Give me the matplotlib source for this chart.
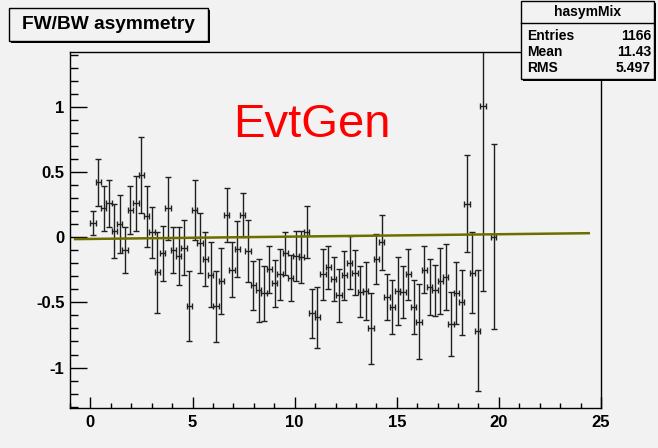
import matplotlib
matplotlib.use("Agg")
import matplotlib.pyplot as plt
import numpy as np
from matplotlib.patches import Rectangle
from matplotlib.ticker import MultipleLocator, FuncFormatter

# histogram hasymMix: bin contents and errors (one empty bin near 19.5)
bin_width = 0.2616
asym = [0.11, 0.42, 0.22, 0.26, 0.048, 0.10, -0.10, 0.21, 0.26, 0.475,
        0.16, 0.036, -0.27, -0.125, 0.22, -0.10, -0.145, -0.082, -0.53, 0.21,
        -0.046, -0.168, -0.287, -0.53, -0.335, 0.168, -0.248, -0.092, 0.168, -0.107,
        -0.37, -0.406, -0.43, -0.247, -0.355, -0.283, -0.125, -0.314, -0.145, -0.151,
        0.040, -0.585, -0.615, -0.283, -0.232, -0.32, -0.447, -0.291, -0.197, -0.273,
        -0.419, -0.413, -0.70, -0.168, -0.040, -0.457, -0.534, -0.413, -0.42, -0.283,
        -0.534, -0.649, -0.248, -0.381, -0.406, -0.335, -0.304, -0.666, -0.43, -0.5,
        0.258, -0.273, -0.717, 1.003, np.nan, 0.002]
asym_err = [0.092, 0.18, 0.17, 0.18, 0.205, 0.22, 0.176, 0.185, 0.21, 0.29,
            0.233, 0.198, 0.31, 0.21, 0.243, 0.176, 0.22, 0.21, 0.27, 0.23,
            0.23, 0.208, 0.252, 0.272, 0.251, 0.208, 0.212, 0.217, 0.168, 0.237,
            0.186, 0.241, 0.21, 0.182, 0.182, 0.195, 0.163, 0.176, 0.19, 0.199,
            0.197, 0.188, 0.232, 0.195, 0.165, 0.168, 0.202, 0.188, 0.204, 0.173,
            0.196, 0.22, 0.274, 0.19, 0.208, 0.178, 0.209, 0.26, 0.197, 0.195,
            0.209, 0.287, 0.182, 0.213, 0.195, 0.251, 0.251, 0.246, 0.239, 0.249,
            0.37, 0.31, 0.466, 1.414, np.nan, 0.71]

# linear fit
fit_p0 = -0.0135
fit_p1 = 0.0018
fit_range = [-0.75, 24.4]

stats_names = ["Entries", "Mean", "RMS"]
stats_values = ["1166", "11.43", "5.497"]

W, H = 658, 448
bg = "#f2f2f2"
bold = dict(family="Liberation Sans", weight="bold")

fig = plt.figure(figsize=(W / 100, H / 100), dpi=100)
fig.patch.set_facecolor(bg)
ax = fig.add_axes([70 / W, 1 - 408 / H, (601 - 70) / W, (408 - 52) / H])
ax.set_facecolor(bg)

y = np.array(asym)
e = np.array(asym_err)
x = (np.arange(len(y)) + 0.5) * bin_width
ok = ~np.isnan(y)
ax.errorbar(x[ok], y[ok], yerr=e[ok], xerr=bin_width / 2, fmt="none",
            ecolor="#202020", elinewidth=1, capsize=2.5, capthick=1)

xf = np.array(fit_range)
ax.plot(xf, fit_p0 + fit_p1 * xf, color="#6e6e00", lw=1.8)

ax.text(7.0, 0.77, "EvtGen", color="#ff0000", fontsize=34,
        family="Liberation Sans", ha="left", va="baseline")

ax.set_xlim(-1, 25)
ax.set_ylim(-1.31, 1.42)
ax.xaxis.set_major_locator(MultipleLocator(5))
ax.xaxis.set_minor_locator(MultipleLocator(1))
ax.yaxis.set_major_locator(MultipleLocator(0.5))
ax.yaxis.set_minor_locator(MultipleLocator(0.1))
ax.yaxis.set_major_formatter(FuncFormatter(lambda v, p: "%g" % v))
ax.xaxis.set_major_formatter(FuncFormatter(lambda v, p: "%g" % v))
ax.tick_params(which="both", direction="in", top=False, right=False, color="black")
ax.tick_params(axis="y", which="major", length=12, width=1, pad=4)
ax.tick_params(axis="y", which="minor", length=6, width=1)
ax.tick_params(axis="x", which="major", length=7.7, width=1, pad=5)
ax.tick_params(axis="x", which="minor", length=3.8, width=1)
for lab in ax.get_xticklabels() + ax.get_yticklabels():
    lab.set_fontfamily("Liberation Sans")
    lab.set_fontweight("bold")
    lab.set_fontsize(12)
for s in ax.spines.values():
    s.set_linewidth(1)
    s.set_color("black")


def fig_box(x0, y0, x1, y1):
    # box given in pixel coordinates from the top-left corner, with shadow
    fig.add_artist(Rectangle(((x0 + 2) / W, 1 - (y1 + 2) / H), (x1 - x0) / W, (y1 - y0) / H,
                             transform=fig.transFigure, facecolor="black", edgecolor="none"))
    fig.add_artist(Rectangle((x0 / W, 1 - y1 / H), (x1 - x0) / W, (y1 - y0) / H,
                             transform=fig.transFigure, facecolor=bg, edgecolor="black", lw=1))


# title box
fig_box(9, 8, 208, 41)
fig.text(108.5 / W, 1 - 24.5 / H, "FW/BW asymmetry", fontsize=13.8, ha="center", va="center", **bold)

# stats box
fig_box(521, 1, 654, 79)
fig.add_artist(plt.Line2D([521 / W, 654 / W], [1 - 23 / H, 1 - 23 / H],
                          transform=fig.transFigure, color="black", lw=1))
fig.text(588 / W, 1 - 12 / H, "hasymMix", fontsize=10, ha="center", va="center", **bold)
for i, (n, v) in enumerate(zip(stats_names, stats_values)):
    yy = 1 - (36 + 16 * i) / H
    fig.text(527 / W, yy, n, fontsize=10, ha="left", va="center", **bold)
    fig.text(651 / W, yy, v, fontsize=10, ha="right", va="center", **bold)

fig.savefig("out.png", dpi=100, facecolor=bg)
